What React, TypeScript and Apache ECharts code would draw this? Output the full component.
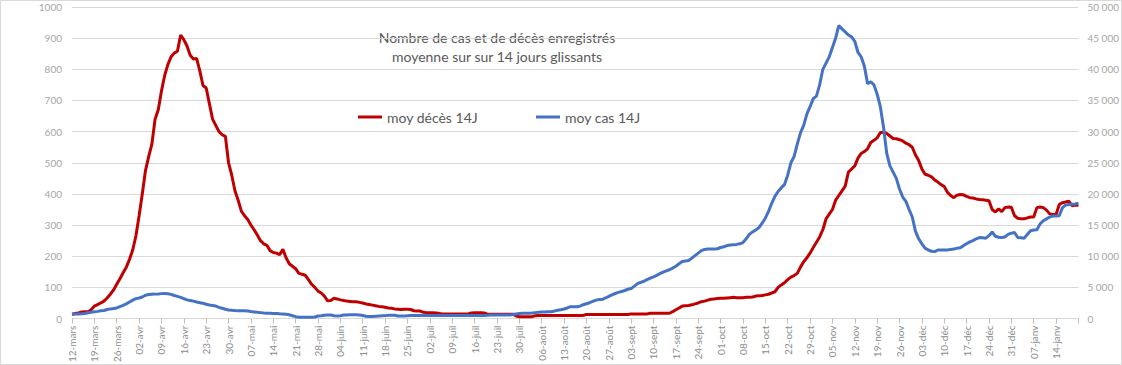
import React, { useEffect, useRef } from "react";
import * as echarts from "echarts";

// Daily 14-day moving averages, 12-mars-2020 .. 21-janv-2021
const deaths: number[] = [
  14, 16, 18, 21, 22, 22, 28, 40, 45, 50,
  56, 66, 78, 92, 110, 128, 147, 165, 190, 220,
  265, 330, 400, 475, 520, 560, 640, 670, 730, 780,
  815, 840, 852, 858, 910, 895, 875, 845, 833, 835,
  795, 748, 740, 690, 640, 620, 600, 590, 585, 500,
  460, 410, 380, 345, 330, 318, 300, 285, 268, 250,
  240, 235, 218, 212, 210, 205, 222, 195, 176, 168,
  160, 145, 142, 139, 125, 110, 100, 88, 82, 72,
  57, 58, 65, 63, 60, 58, 56, 55, 54, 54,
  52, 50, 47, 45, 43, 41, 39, 38, 36, 34,
  33, 31, 30, 29, 30, 30, 29, 25, 24, 24,
  20, 19, 19, 19, 18, 16, 15, 15, 15, 15,
  15, 15, 15, 15, 15, 18, 19, 19, 19, 18,
  14, 14, 14, 14, 14, 14, 14, 14, 14, 8,
  6, 6, 6, 6, 6, 9, 10, 10, 10, 10,
  10, 10, 10, 10, 10, 10, 10, 10, 10, 10,
  10, 13, 13, 13, 13, 13, 13, 13, 13, 13,
  13, 13, 13, 13, 13, 15, 15, 15, 15, 15,
  15, 17, 17, 17, 17, 17, 17, 17, 22, 28,
  34, 40, 41, 42, 44, 47, 50, 54, 56, 59,
  62, 63, 64, 65, 65, 66, 67, 68, 67, 67,
  67, 68, 68, 69, 72, 73, 74, 76, 78, 82,
  86, 100, 108, 115, 125, 133, 138, 145, 165, 182,
  195, 210, 228, 245, 262, 285, 320, 335, 350, 380,
  395, 410, 425, 470, 480, 490, 515, 530, 536, 545,
  565, 572, 580, 597, 598, 594, 586, 578, 577, 574,
  570, 563, 558, 550, 525, 507, 480, 463, 460, 455,
  445, 438, 430, 424, 405, 395, 388, 396, 398, 397,
  392, 388, 387, 384, 382, 381, 380, 378, 350, 342,
  352, 343, 356, 358, 357, 330, 322, 320, 320, 323,
  326, 326, 356, 358, 356, 348, 336, 334, 334, 366,
  372, 374, 377, 362, 364, 364,
];

const cases: number[] = [
  700, 720, 740, 760, 820, 930, 1000, 1080, 1150, 1250,
  1300, 1450, 1550, 1620, 1700, 1900, 2100, 2350, 2650, 2950,
  3200, 3300, 3450, 3750, 3850, 3900, 3920, 3950, 4000, 4020,
  3980, 3880, 3700, 3550, 3400, 3200, 3000, 2900, 2800, 2650,
  2550, 2450, 2300, 2180, 2100, 2000, 1800, 1650, 1500, 1380,
  1320, 1290, 1270, 1260, 1250, 1200, 1120, 1060, 1000, 950,
  900, 860, 840, 820, 800, 760, 740, 700, 600, 450,
  300, 220, 210, 210, 210, 210, 250, 400, 450, 520,
  580, 560, 450, 420, 450, 560, 580, 590, 590, 590,
  580, 500, 380, 320, 320, 350, 420, 430, 470, 510,
  520, 530, 420, 400, 410, 450, 480, 480, 480, 480,
  480, 480, 480, 480, 480, 480, 480, 480, 480, 500,
  500, 500, 500, 500, 500, 500, 500, 500, 500, 500,
  520, 550, 580, 580, 580, 580, 580, 580, 650, 740,
  800, 850, 850, 860, 880, 950, 1000, 1060, 1060, 1080,
  1100, 1200, 1320, 1420, 1530, 1700, 1900, 1900, 1880, 2000,
  2220, 2380, 2540, 2750, 2960, 3050, 3070, 3300, 3550, 3800,
  4020, 4200, 4350, 4500, 4700, 4810, 5200, 5600, 5800, 5980,
  6250, 6500, 6700, 6930, 7200, 7450, 7650, 7830, 8100, 8400,
  8800, 9150, 9250, 9310, 9700, 10100, 10500, 10900, 11100, 11160,
  11160, 11150, 11200, 11400, 11530, 11700, 11800, 11850, 11900, 12000,
  12200, 12800, 13500, 13900, 14200, 14600, 15300, 16100, 17200, 18500,
  19600, 20400, 21000, 21500, 23000, 25000, 26000, 28000, 29800, 31000,
  32800, 34000, 35300, 35700, 37500, 40000, 41000, 42000, 43500, 45000,
  47000, 46500, 46000, 45500, 45200, 44500, 42700, 42000, 40500, 37700,
  38000, 37500, 36000, 34000, 30700, 26500, 24500, 23500, 22500, 20800,
  19500, 18800, 17500, 16300, 14000, 12800, 12000, 11300, 11000, 10800,
  10750, 11000, 11000, 11000, 11000, 11100, 11150, 11300, 11350, 11700,
  12000, 12300, 12500, 12800, 13000, 12950, 12900, 13300, 13900, 13200,
  13050, 13000, 13100, 13500, 13700, 13800, 13000, 12950, 12900, 13500,
  14100, 14200, 14250, 15200, 15700, 16000, 16300, 16450, 16450, 16500,
  17800, 18200, 18300, 18350, 18400, 18500,
];

const monthNames: string[] = ["janv", "févr", "mars", "avr", "mai", "juin", "juil", "août", "sept", "oct", "nov", "déc"];
const startDate = Date.UTC(2020, 2, 12);
const categories: string[] = deaths.map((_, i) => {
  const d = new Date(startDate + i * 86400000);
  const dd = String(d.getUTCDate()).padStart(2, "0");
  return dd + "-" + monthNames[d.getUTCMonth()];
});

const seriesNames: string[] = ["moy décès 14J", "moy cas 14J"];
const titleLines: string[] = ["Nombre de cas et de décès enregistrés", "moyenne sur sur 14 jours glissants"];

const FONT = "Lato, 'Noto Sans', sans-serif";

export default function App() {
  const ref = useRef<HTMLDivElement>(null);
  useEffect(() => {
    if (!ref.current) return;
    const chart = echarts.init(ref.current, undefined, { renderer: "svg" });
    const lastIdx = categories.length - 1;
    chart.setOption({
      animation: false,
      backgroundColor: "#ffffff",
      textStyle: { fontFamily: FONT },
      graphic: [
        {
          type: "rect",
          shape: { x: 0.5, y: 0.5, width: 1121, height: 364 },
          style: { fill: "none", stroke: "#d9d9d9", lineWidth: 1 },
          silent: true,
        },
        {
          type: "text",
          x: 497,
          y: 28,
          style: {
            text: titleLines.join("\n"),
            textAlign: "center",
            textVerticalAlign: "top",
            fontFamily: FONT,
            fontSize: 14,
            lineHeight: 19,
            fill: "#595959",
          },
        },
      ],
      legend: {
        data: seriesNames,
        left: 358,
        top: 110,
        padding: 0,
        icon: "rect",
        itemWidth: 24,
        itemHeight: 3,
        itemGap: 58,
        textStyle: { fontFamily: FONT, fontSize: 14, color: "#595959" },
      },
      grid: { left: 72, right: 39, top: 7, bottom: 43 },
      xAxis: {
        type: "category",
        data: categories,
        boundaryGap: false,
        axisLine: { lineStyle: { color: "#d9d9d9", width: 1 } },
        axisTick: {
          interval: (i: number) => i % 7 === 0,
          length: 5,
          lineStyle: { color: "#bfbfbf" },
        },
        axisLabel: {
          interval: (i: number) => i % 7 === 0 && i < lastIdx,
          rotate: 90,
          fontSize: 10,
          color: "#8c8c8c",
          margin: 7,
          fontFamily: FONT,
        },
        splitLine: { show: false },
      },
      yAxis: [
        {
          type: "value",
          min: 0,
          max: 1000,
          interval: 100,
          axisLine: { show: false },
          axisTick: { show: false },
          axisLabel: {
            fontSize: 10,
            color: "#a6a6a6",
            margin: 10,
            fontFamily: FONT,
            formatter: (v: number) => String(v),
          },
          splitLine: { lineStyle: { color: "#d9d9d9", width: 1 } },
        },
        {
          type: "value",
          min: 0,
          max: 50000,
          interval: 5000,
          position: "right",
          axisLine: { show: false },
          axisTick: { show: false },
          axisLabel: {
            fontSize: 10,
            color: "#a6a6a6",
            margin: 9,
            fontFamily: FONT,
            formatter: (v: number) => String(v).replace(/\B(?=(\d{3})+(?!\d))/g, " "),
          },
          splitLine: { show: false },
        },
      ],
      series: [
        {
          name: seriesNames[0],
          type: "line",
          data: deaths,
          yAxisIndex: 0,
          showSymbol: false,
          symbol: "none",
          lineStyle: { color: "#c00000", width: 3 },
          itemStyle: { color: "#c00000" },
        },
        {
          name: seriesNames[1],
          type: "line",
          data: cases,
          yAxisIndex: 1,
          showSymbol: false,
          symbol: "none",
          lineStyle: { color: "#4472c4", width: 3 },
          itemStyle: { color: "#4472c4" },
        },
      ],
    });
    return () => chart.dispose();
  }, []);
  return (
    <div
      ref={ref}
      style={{ position: "absolute", left: 0, top: 0, width: 1122, height: 365 }}
    />
  );
}
